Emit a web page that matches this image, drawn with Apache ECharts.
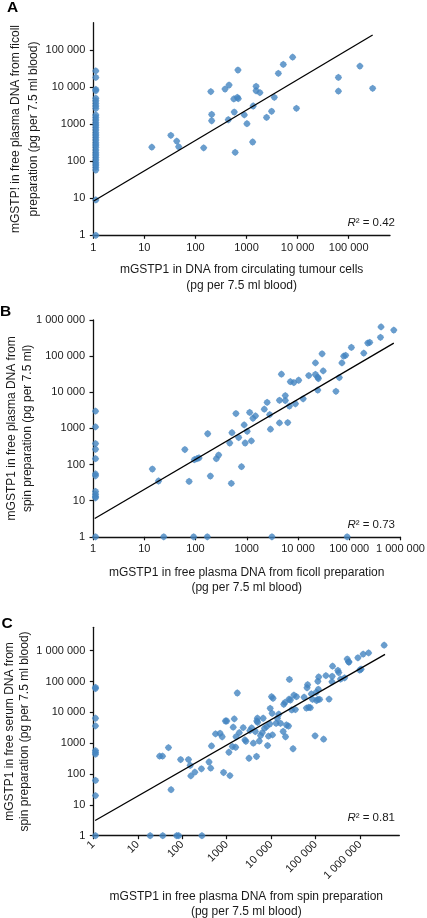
<!DOCTYPE html>
<html><head><meta charset="utf-8">
<script src="https://cdn.jsdelivr.net/npm/echarts@6/dist/echarts.min.js"></script>
<style>html,body{margin:0;padding:0;background:#fff}#c{width:427px;height:918px}</style>
</head><body><div id="c"></div>
<script>
// ---------------- DATA (pg per 7.5 ml blood) ----------------
// Panel A: x = CTC DNA, y = ficoll plasma DNA
const aColX = 1.12; // points drawn at the "1" column
const aColY = [27500, 18300, 8700, 8000, 5000, 4300, 3640, 3100, 2660, 1770, 1520, 1290, 1100, 950, 820, 700, 590, 510, 440, 375, 315, 275, 237, 200, 170, 147, 127, 108, 91, 79, 68, 58, 9, 1];
const aX = [14, 33, 43, 47, 145, 200, 208, 208, 380, 455, 440, 680, 565, 660, 690, 575, 600, 905, 1020, 1320, 1350, 1540, 1540, 1830, 2470, 3100, 3500, 4200, 5250, 8000, 9500, 63000, 63000, 166000, 295000];
const aY = [240, 500, 350, 245, 230, 7600, 1830, 1240, 8900, 11400, 1320, 29000, 4800, 5300, 4900, 2130, 173, 1780, 1030, 330, 3100, 10500, 8000, 7100, 1520, 2230, 5300, 23500, 41000, 64600, 2680, 7800, 18300, 37000, 9300];
const aFitX = [1, 295000];
const aFitY = [8.3, 257000];
const aR2 = '0.42';

// Panel B: x = ficoll plasma DNA, y = spin plasma DNA
const bColX = 1.12;
const bColY = [3000, 1100, 380, 265, 145, 55, 49, 18, 15, 13, 12, 1];
const bRowX = [24, 92, 170, 3100, 91000];
const bRowY = 1;
const bX = [14.4, 19, 62, 75, 95, 107, 117, 173, 195, 255, 283, 500, 465, 515, 615, 695, 790, 890, 930, 1020, 1140, 1230, 1320, 1480, 2200, 2500, 2800, 2900, 4350, 4350, 4750, 5650, 5650, 6300, 6800, 7100, 8300, 8900, 10300, 12600, 16200, 21900, 21900, 24300, 25000, 24300, 29500, 31000, 55000, 64000, 72000, 78000, 85000, 110000, 192000, 230000, 251000, 407000, 417000, 740000];
const bY = [75, 35, 260, 34, 136, 145, 152, 710, 48, 145, 183, 30, 395, 760, 2580, 560, 87, 1250, 395, 830, 2760, 450, 1910, 2220, 3400, 5250, 2400, 950, 6000, 1420, 31600, 8100, 5900, 1450, 4150, 19600, 18500, 4800, 21500, 6600, 29000, 65000, 31000, 26000, 24000, 11500, 116000, 39000, 10600, 25500, 65000, 100000, 105000, 174000, 121000, 230000, 240000, 331000, 645000, 525000];
const bFitX = [1.08, 740000];
const bFitY = [3.2, 229000];
const bR2 = '0.73';

// Panel C: x = spin plasma DNA, y = spin serum DNA
const cColX = 1.12;
const cColY = [65000, 59000, 6450, 3640, 575, 500, 440, 62, 20, 1];
const cRowX = [19, 36.5, 75, 83, 277];
const cRowY = 1;
const cX = [31, 36, 49, 56, 92, 138, 151, 156, 192, 270, 400, 437, 455, 560, 710, 790, 850, 935, 1000, 1120, 1180, 1340, 1400, 1480, 1590, 1620, 1730, 1920, 2350, 2570, 2700, 3170, 3320, 3630, 3970, 4400, 4680, 4760, 4900, 4950, 5400, 5770, 6300, 6600, 7100, 7900, 8300, 8700, 9300, 9500, 10200, 10500, 11000, 10700, 12900, 13800, 14800, 16200, 18600, 19200, 20500, 21000, 22000, 24500, 25200, 25700, 27000, 29000, 31000, 32400, 35000, 37000, 55000, 62000, 64000, 66000, 70000, 76000, 80000, 85000, 97000, 103000, 105000, 112000, 112000, 115000, 117000, 123000, 151000, 170000, 200000, 233000, 240000, 235000, 316000, 331000, 363000, 447000, 513000, 550000, 562000, 891000, 980000, 1050000, 1170000, 1550000, 3470000];
const cY = [380, 380, 720, 31, 295, 295, 190, 87, 115, 148, 246, 155, 815, 2000, 2100, 1620, 112, 5250, 5250, 510, 89, 780, 3300, 6150, 740, 1620, 42500, 2200, 3200, 1280, 1150, 325, 2550, 3150, 1000, 2400, 370, 5250, 6450, 4780, 1180, 1780, 2200, 6450, 3050, 3460, 840, 1690, 4200, 13500, 32200, 9300, 28600, 1860, 4430, 6450, 8700, 4430, 2400, 18300, 21200, 1620, 3900, 3600, 27000, 117000, 25200, 12000, 660, 36300, 12300, 32200, 31000, 13800, 63000, 79000, 14600, 14200, 39800, 26300, 1740, 44700, 24000, 26300, 102000, 56000, 141000, 26300, 1350, 155000, 27000, 98000, 316000, 148000, 229000, 195000, 120000, 132000, 537000, 437000, 427000, 589000, 234000, 252000, 776000, 851000, 1510000];
const cFitX = [1.1, 3630000];
const cFitY = [3.1, 759000];
const cR2 = '0.81';

// Axis ranges and tick values
const aXMax = 645000, aYMax = 550000;
const bXMax = 1000000, bYMax = 1000000;
const cXMax = 7600000, cYMax = 5750000;
const ticksA_x = [1, 10, 100, 1000, 10000, 100000];
const ticksA_y = [1, 10, 100, 1000, 10000, 100000];
const ticksB_x = [1, 10, 100, 1000, 10000, 100000, 1000000];
const ticksB_y = [1, 10, 100, 1000, 10000, 100000, 1000000];
const ticksC_x = [1, 10, 100, 1000, 10000, 100000, 1000000];
const ticksC_y = [1, 10, 100, 1000, 10000, 100000, 1000000];

const titles = {
  aX: 'mGSTP1 in DNA from circulating tumour cells\n(pg per 7.5 ml blood)',
  aY: 'mGSTP! in free plasma DNA from ficoll\npreparation (pg per 7.5 ml blood)',
  bX: 'mGSTP1 in free plasma DNA from ficoll preparation\n(pg per 7.5 ml blood)',
  bY: 'mGSTP1 in free plasma DNA from\nspin preparation (pg per 7.5 ml)',
  cX: 'mGSTP1 in free plasma DNA from spin preparation\n(pg per 7.5 ml blood)',
  cY: 'mGSTP1 in free serum DNA from\nspin preparation (pg per 7.5 ml blood)'
};

// ---------------- BUILD ----------------
const L = Math.log10;
const pairs = (xs, ys) => xs.map((x, i) => [L(x), L(ys[i])]);
const colPts = (x, ys) => ys.map(y => [L(x), L(y)]);
const rowPts = (xs, y) => xs.map(x => [L(x), L(y)]);

function fmt(v) {
  const n = Math.round(Math.pow(10, v));
  if (n < 10000) return String(n);
  return String(n).replace(/\B(?=(\d{3})+(?!\d))/g, ' ');
}

const FONT = 'Liberation Sans, Arial, Helvetica, sans-serif';
const TXT = '#1a1a1a';
const PT = '#4484c1';
const MARK = 'path://M0,-10 L6,-6 L10,0 L6,6 L0,10 L-6,6 L-10,0 L-6,-6 Z';

function axis(gi, maxV, ticks, name, gap, lh, isX, rotate) {
  const tv = ticks.map(L);
  return {
    type: 'value', gridIndex: gi, min: 0, max: L(maxV),
    interval: 1,
    name: name, nameLocation: 'middle', nameGap: gap, nameMoveOverlap: false,
    nameTextStyle: { fontFamily: FONT, fontSize: 12, color: TXT, lineHeight: lh },
    axisLine: { show: true, onZero: false, lineStyle: { color: '#111', width: 1.3 } },
    axisTick: { show: true, inside: false, length: 3.5, lineStyle: { color: '#111', width: 1.2 }, customValues: tv },
    axisLabel: { show: true, customValues: tv, formatter: fmt, fontFamily: FONT, fontSize: 11, color: TXT,
                 margin: isX ? 7 : 8, rotate: rotate || 0, showMinLabel: true, showMaxLabel: true, hideOverlap: false },
    splitLine: { show: false }
  };
}

const grids = [
  { left: 93.3, top: 22.7, width: 296.7, height: 212.6, outerBoundsMode: 'none', containLabel: false },
  { left: 93, top: 320, width: 307.5, height: 216.8, outerBoundsMode: 'none', containLabel: false },
  { left: 93.3, top: 627.3, width: 306, height: 208.4, outerBoundsMode: 'none', containLabel: false }
];

const xAxes = [
  axis(0, aXMax, ticksA_x, titles.aX, 27, 15.5, true),
  axis(1, bXMax, ticksB_x, titles.bX, 28, 15.5, true),
  axis(2, cXMax, ticksC_x, titles.cX, 53, 15.5, true, 45)
];
const yAxes = [
  axis(0, aYMax, ticksA_y, titles.aY, 51, 18, false),
  axis(1, bYMax, ticksB_y, titles.bY, 57, 16, false),
  axis(2, cYMax, ticksC_y, titles.cY, 61, 15, false)
];

function scat(gi, data) {
  return { type: 'scatter', xAxisIndex: gi, yAxisIndex: gi, data: data, symbol: MARK, symbolSize: 7.3,
           itemStyle: { color: PT }, z: 2, silent: true };
}
function fit(gi, xs, ys) {
  return { type: 'line', xAxisIndex: gi, yAxisIndex: gi, data: pairs(xs, ys), symbol: 'none',
           lineStyle: { color: '#000', width: 1.3 }, z: 3, silent: true };
}

const series = [
  scat(0, colPts(aColX, aColY)), scat(0, pairs(aX, aY)), fit(0, aFitX, aFitY),
  scat(1, colPts(bColX, bColY)), scat(1, rowPts(bRowX, bRowY)), scat(1, pairs(bX, bY)), fit(1, bFitX, bFitY),
  scat(2, colPts(cColX, cColY)), scat(2, rowPts(cRowX, cRowY)), scat(2, pairs(cX, cY)), fit(2, cFitX, cFitY)
];

function r2(x, y, val) {
  return { type: 'text', right: 427 - x, top: y - 7,
           style: { text: '{i|R}² = ' + val, fill: TXT, font: '11.5px ' + FONT,
                    rich: { i: { fontStyle: 'italic', fontSize: 11.5, fontFamily: FONT, fill: TXT } } } };
}
function letter(t, x, y) {
  return { type: 'text', left: x, top: y, style: { text: t, fill: '#000', font: 'bold 15.5px ' + FONT } };
}

const option = {
  animation: false,
  backgroundColor: '#fff',
  textStyle: { fontFamily: FONT },
  grid: grids, xAxis: xAxes, yAxis: yAxes, series: series,
  graphic: [
    letter('A', 7, 0), letter('B', 0, 304), letter('C', 1.5, 616),
    r2(395, 224, aR2), r2(395, 526, bR2), r2(395, 819, cR2)
  ]
};

const chart = echarts.init(document.getElementById('c'), null, { renderer: 'canvas' });
chart.setOption(option);
</script></body></html>
